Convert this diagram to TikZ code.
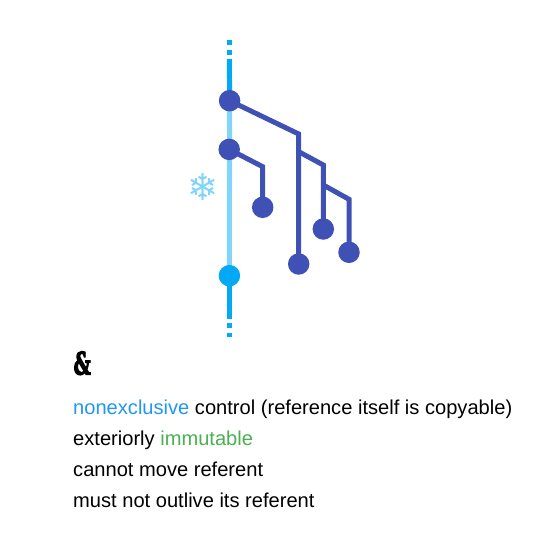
\documentclass[tikz,border=0pt]{standalone}
\usetikzlibrary{backgrounds}
\usepackage{fontspec}
\setmainfont{Liberation Sans}
\newfontfamily\flakefont{DejaVu Sans}
\newfontfamily\ampfont{DejaVu Serif Condensed Bold}[FakeBold=4]
\definecolor{mainblue}{HTML}{03A9F4}
\definecolor{lightb}{HTML}{81D4FA}
\definecolor{indigo}{HTML}{3F51B5}
\definecolor{wordblue}{HTML}{2196F3}
\definecolor{wordgreen}{HTML}{4CAF50}
\tikzset{
  dot/.style={circle,fill=indigo,minimum size=21.5pt,inner sep=0pt,outer sep=0pt},
  bluedot/.style={dot,fill=mainblue},
  trunk/.style={line width=5pt,mainblue},
  frozen/.style={line width=5pt,lightb},
  branch/.style={line width=5pt,indigo,miter limit=10},
  txt/.style={anchor=base west,inner sep=0pt,font=\fontsize{20.1pt}{22pt}\selectfont,text=black},
}
\begin{document}
\begin{tikzpicture}[x=1pt,y=-1pt]
\useasboundingbox (0,0) rectangle (536,538);
\node[dot] (c1) at (229.6,100.7) {};
\node[dot] (c2) at (229.2,149.4) {};
\node[bluedot] (b) at (229.4,275.7) {};
\node[dot] (l1) at (262.7,207.3) {};
\node[dot] (l2) at (298.7,264) {};
\node[dot] (l3) at (323.3,229) {};
\node[dot] (l4) at (349,252.3) {};
\coordinate (t0) at (229.4,59);
\coordinate (t1) at (229.4,319);
\coordinate (d1a) at (229.4,40); \coordinate (d1b) at (229.4,45);
\coordinate (d2a) at (229.4,49.5); \coordinate (d2b) at (229.4,54.5);
\coordinate (d3a) at (229.4,323); \coordinate (d3b) at (229.4,328);
\coordinate (d4a) at (229.4,332.5); \coordinate (d4b) at (229.4,337);
\coordinate (k1) at (298.7,134);
\coordinate (k2) at (262.7,166.7);
\coordinate (j1) at (298.7,151.7);
\coordinate (k3) at (323.3,165);
\coordinate (j2) at (323.3,185);
\coordinate (k4) at (349,199.3);
\begin{scope}[on background layer]
\draw[frozen] (c1.center) -- (b.center);
\draw[trunk] (t0) -- (c1.center);
\draw[trunk] (b.center) -- (t1);
\draw[trunk] (d1a) -- (d1b);
\draw[trunk] (d2a) -- (d2b);
\draw[trunk] (d3a) -- (d3b);
\draw[trunk] (d4a) -- (d4b);
\draw[branch] (c1.center) -- (k1) -- (l2.center);
\draw[branch] (c2.center) -- (k2) -- (l1.center);
\draw[branch] (j1) -- (k3) -- (l3.center);
\draw[branch] (j2) -- (k4) -- (l4.center);
\end{scope}
\node[inner sep=0pt,text=lightb,font=\flakefont\fontsize{37pt}{37pt}\selectfont] (flake) at (203,187.5) {❄};
\node[txt,font=\ampfont\fontsize{31pt}{31pt}\selectfont,xscale=0.68] (amp) at (73.5,374.5) {\&};
\node[txt] (a) at (73,414.5) {\textcolor{wordblue}{nonexclusive} control (reference itself is copyable)};
\node[txt] (e) at (73,445.5) {exteriorly \textcolor{wordgreen}{immutable}};
\node[txt] (m) at (73,476.5) {cannot move referent};
\node[txt] (o) at (73,507.5) {must not outlive its referent};
\end{tikzpicture}
\end{document}
